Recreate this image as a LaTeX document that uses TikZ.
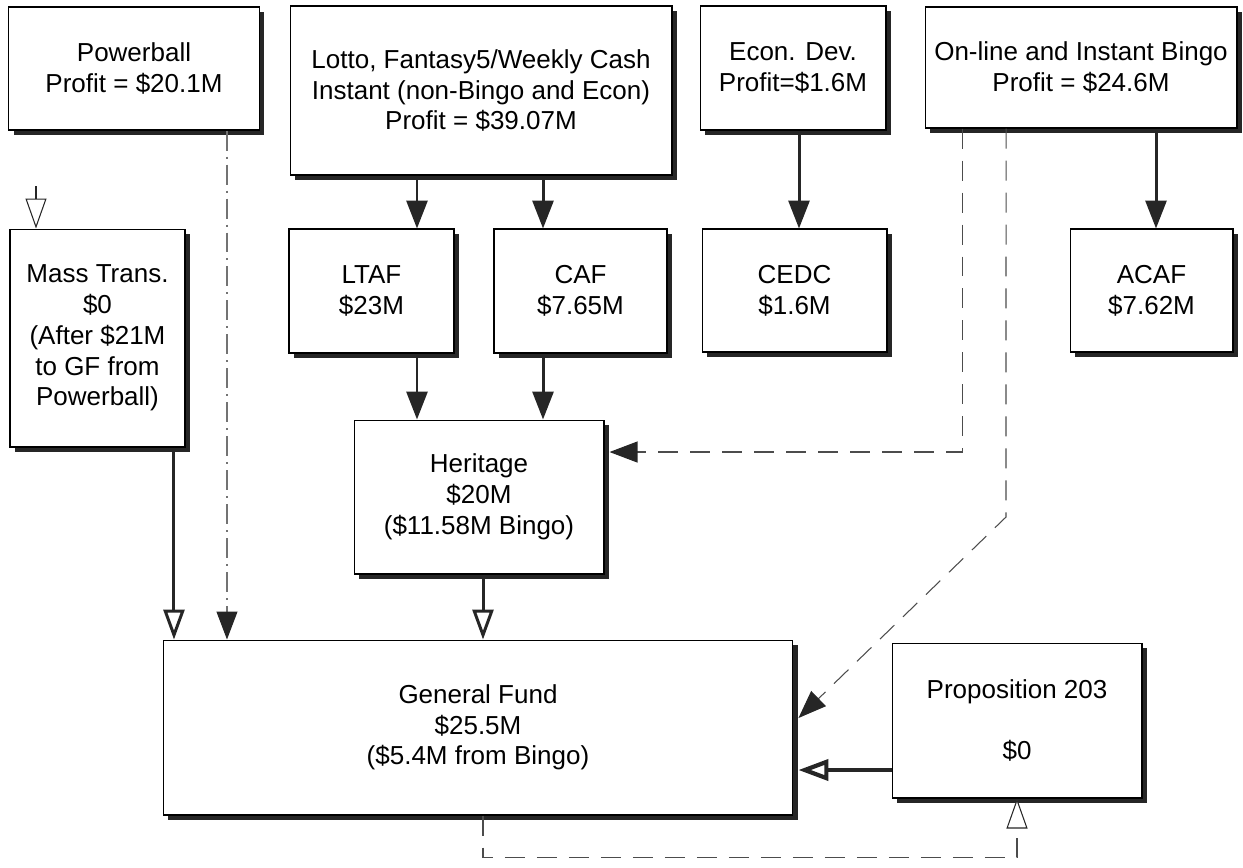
\documentclass[tikz,border=0pt]{standalone}
\usepackage{fontspec}
\setmainfont{Liberation Sans}
\usepackage{tikz}
\usetikzlibrary{arrows.meta,shadows,calc}
\tikzset{
  box/.style={draw,fill=white,line width=0.6pt,align=center,inner sep=0pt,
              font=\fontsize{14.8}{17.5}\selectfont,
              drop shadow={shadow xshift=0.1cm,shadow yshift=-0.1cm,
                           fill=black!85,opacity=1}},
  tip/.style={-{Triangle[length=0.56cm,width=0.42cm,color=black!85]}},
  otip/.style={-{Triangle[open,length=0.6cm,width=0.42cm,color=black!85,fill=white]}},
  arr/.style={tip,line width=1.7pt,black!85},
  oarr/.style={otip,line width=1.7pt,black!85},
  dline/.style={line width=0.6pt,black!70,dash pattern=on 0.4cm off 0.24cm},
  ddline/.style={line width=0.6pt,black!55,dash pattern=on 0.4cm off 0.12cm on 0.04cm off 0.12cm},
}

\begin{document}
\begin{tikzpicture}[x=0.02cm,y=-0.02cm]
\useasboundingbox (0,0) rectangle (1243,867);

% top row: profits
\node[box,minimum width=5.02cm,minimum height=2.46cm] (powerball) at (134,68.5)
  {Powerball\\Profit = \$20.1M};
\node[box,minimum width=7.64cm,minimum height=3.38cm] (lotto) at (481,90.5)
  {Lotto, Fantasy5/Weekly Cash\\Instant (non-Bingo and Econ)\\Profit = \$39.07M};
\node[box,minimum width=3.72cm,minimum height=2.48cm] (econ) at (793,68)
  {Econ. Dev.\\Profit=\$1.6M};
\node[box,minimum width=6.24cm,minimum height=2.42cm] (online) at (1081,67.5)
  {On-line and Instant Bingo\\Profit = \$24.6M};

% second row: funds
\node[box,minimum width=3.5cm,minimum height=4.36cm] (mass) at (97.5,338)
  {Mass Trans.\\\$0\\(After \$21M\\to GF from\\Powerball)};
\node[box,minimum width=3.3cm,minimum height=2.48cm] (ltaf) at (371.5,291)
  {LTAF\\\$23M};
\node[box,minimum width=3.46cm,minimum height=2.48cm] (caf) at (580.5,291)
  {CAF\\\$7.65M};
\node[box,minimum width=3.7cm,minimum height=2.46cm] (cedc) at (794.5,290.5)
  {CEDC\\\$1.6M};
\node[box,minimum width=3.26cm,minimum height=2.46cm] (acaf) at (1151.5,290.5)
  {ACAF\\\$7.62M};

% heritage and general fund
\node[box,minimum width=5.0cm,minimum height=3.08cm] (heritage) at (479,497)
  {Heritage\\\$20M\\(\$11.58M Bingo)};
\node[box,minimum width=12.6cm,minimum height=3.5cm] (gf) at (478,727.5)
  {General Fund\\\$25.5M\\(\$5.4M from Bingo)};
\node[box,minimum width=5.0cm,minimum height=3.1cm] (prop) at (1017,720.5)
  {Proposition 203\\[17.5pt]\$0};

\coordinate (stub) at (36,186);
\coordinate (bend) at (1006,517);

% solid flows
\draw[arr] ([xshift=0.91cm]ltaf.north |- lotto.south) -- ([xshift=0.91cm]ltaf.north);
\draw[arr] ([xshift=-0.75cm]caf.north |- lotto.south) -- ([xshift=-0.75cm]caf.north);
\draw[arr] ([xshift=0.12cm]econ.south) -- ([xshift=0.12cm]econ.south |- cedc.north);
\draw[arr] ([xshift=0.09cm]acaf.north |- online.south) -- ([xshift=0.09cm]acaf.north);
\draw[arr] ([xshift=0.91cm]ltaf.south) -- ([xshift=0.91cm]ltaf.south |- heritage.north);
\draw[arr] ([xshift=-0.75cm]caf.south) -- ([xshift=-0.75cm]caf.south |- heritage.north);
\draw[oarr] ([xshift=0.08cm]heritage.south) -- ([xshift=0.08cm]heritage.south |- gf.north);
\draw[oarr] ([xshift=1.53cm]mass.south) -- ([xshift=1.53cm]mass.south |- gf.north);
\draw[oarr,line width=2.4pt] ([yshift=-0.99cm]prop.west) -- ([yshift=-0.99cm,xshift=0.1cm]prop.west -| gf.east);
\draw[oarr,line width=0.6pt] (stub) -- (stub |- mass.north);

% dashed flows
\draw[ddline,tip]
  ([xshift=1.86cm]powerball.south) -- ([xshift=1.86cm]powerball.south |- gf.north);
\draw[dline,tip]
  ([xshift=-2.38cm]online.south) |- ([xshift=0.1cm,yshift=0.9cm]heritage.east);
\draw[dline,tip]
  ([xshift=-1.5cm]online.south) -- (bend) -- ([xshift=0.1cm,yshift=0.19cm]gf.east);
\draw[dline,otip]
  ([xshift=0.1cm]gf.south) -- ++(0,42) -| (prop.south);

\end{tikzpicture}
\end{document}
